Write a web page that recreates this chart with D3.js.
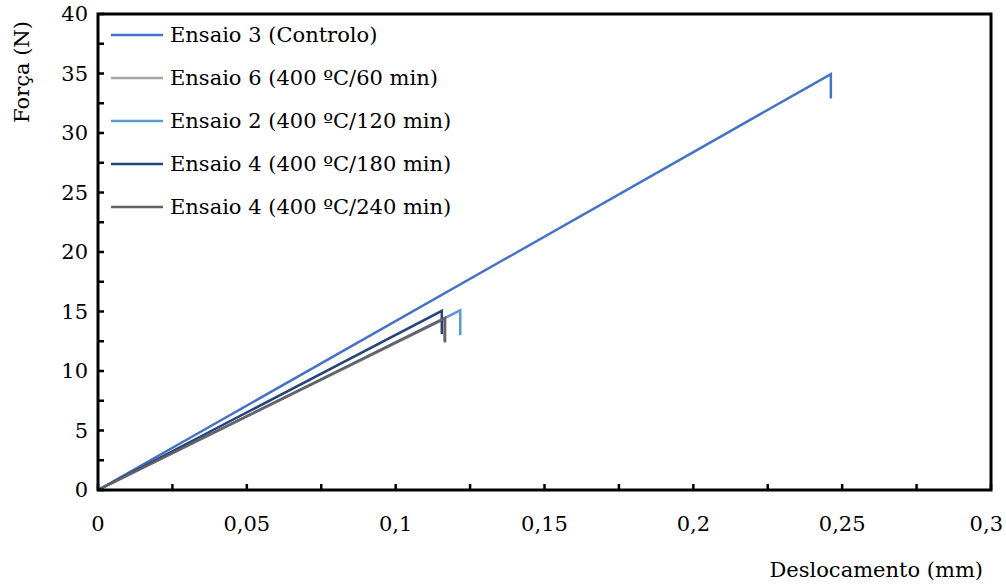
<!DOCTYPE html>
<html><head><meta charset="utf-8">
<script src="https://cdn.jsdelivr.net/npm/d3@7"></script>
<style>body{margin:0;background:#fff}svg{display:block}text{font-family:"DejaVu Serif",Georgia,serif;fill:#000}</style>
</head><body><svg id="c" width="1006" height="584"></svg>
<script>
const seriesNames = ["Ensaio 3 (Controlo)","Ensaio 6 (400 ºC/60 min)","Ensaio 2 (400 ºC/120 min)","Ensaio 4 (400 ºC/180 min)","Ensaio 4 (400 ºC/240 min)"];
const seriesColors = ["#4472C4","#A5A5A5","#5B9BD5","#264478","#636363"];
const ctrlX = [0, 0.2462, 0.2462];
const ctrlY = [0, 34.95, 32.9];
const s60X = [0, 0.1163, 0.1163];
const s60Y = [0, 14.35, 12.5];
const s120X = [0, 0.1217, 0.1217];
const s120Y = [0, 15.1, 13.0];
const s180X = [0, 0.1155, 0.1155];
const s180Y = [0, 15.05, 13.1];
const s240X = [0, 0.1166, 0.1166];
const s240Y = [0, 14.45, 12.4];
const xTicks = [0,0.05,0.1,0.15,0.2,0.25,0.3];
const xTickLabels = ["0","0,05","0,1","0,15","0,2","0,25","0,3"];
const yTicks = [0,5,10,15,20,25,30,35,40];
const xMinor = d3.range(0,0.3001,0.025);
const yMinor = d3.range(0,40.01,2.5);

const svg = d3.select("#c");
const x = d3.scaleLinear().domain([0,0.3]).range([98,991]);
const y = d3.scaleLinear().domain([0,40]).range([490,14]);

const series = [[ctrlX,ctrlY],[s60X,s60Y],[s120X,s120Y],[s180X,s180Y],[s240X,s240Y]];
const line = d3.line().x(d=>x(d[0])).y(d=>y(d[1]));
series.forEach((s,i)=>{
  const pts = s[0].map((v,j)=>[v,s[1][j]]);
  svg.append("path").attr("d",line(pts)).attr("fill","none").attr("stroke",seriesColors[i]).attr("stroke-width",2.5).attr("stroke-linejoin","miter");
});

// frame
svg.append("rect").attr("x",x(0)).attr("y",y(40)).attr("width",x(0.3)-x(0)).attr("height",y(0)-y(40))
  .attr("fill","none").attr("stroke","#000").attr("stroke-width",3);

// minor ticks
svg.selectAll(".xt").data(xMinor).enter().append("line")
  .attr("x1",d=>x(d)).attr("x2",d=>x(d)).attr("y1",y(0)).attr("y2",y(0)-6).attr("stroke","#000").attr("stroke-width",2.5);
svg.selectAll(".yt").data(yMinor).enter().append("line")
  .attr("y1",d=>y(d)).attr("y2",d=>y(d)).attr("x1",x(0)).attr("x2",x(0)+6).attr("stroke","#000").attr("stroke-width",2.5);

// tick labels
svg.selectAll(".xl").data(xTicks).enter().append("text")
  .attr("x",d=>x(d)).attr("y",531).attr("text-anchor","middle").attr("font-size",21)
  .text((d,i)=>xTickLabels[i])
  .each(function(){
    const w = this.getComputedTextLength();
    const cx = +this.getAttribute("x");
    if (cx + w/2 > 1003) this.setAttribute("x", 1003 - w/2);
  });
svg.selectAll(".yl").data(yTicks).enter().append("text")
  .attr("x",88).attr("y",d=>y(d)+7).attr("text-anchor","end").attr("font-size",21)
  .text(d=>d);

// axis titles
svg.append("text").attr("x",983).attr("y",577).attr("text-anchor","end").attr("font-size",21).text("Deslocamento (mm)");
svg.append("text").attr("transform","translate(29,72) rotate(-90)").attr("text-anchor","middle").attr("font-size",21).text("Força  (N)");

// legend
const leg = svg.append("g");
seriesNames.forEach((n,i)=>{
  const yy = 35 + i*43;
  leg.append("line").attr("x1",111).attr("x2",163).attr("y1",yy).attr("y2",yy).attr("stroke",seriesColors[i]).attr("stroke-width",2.5);
  leg.append("text").attr("x",170).attr("y",yy+7).attr("font-size",21).text(n);
});
</script></body></html>
